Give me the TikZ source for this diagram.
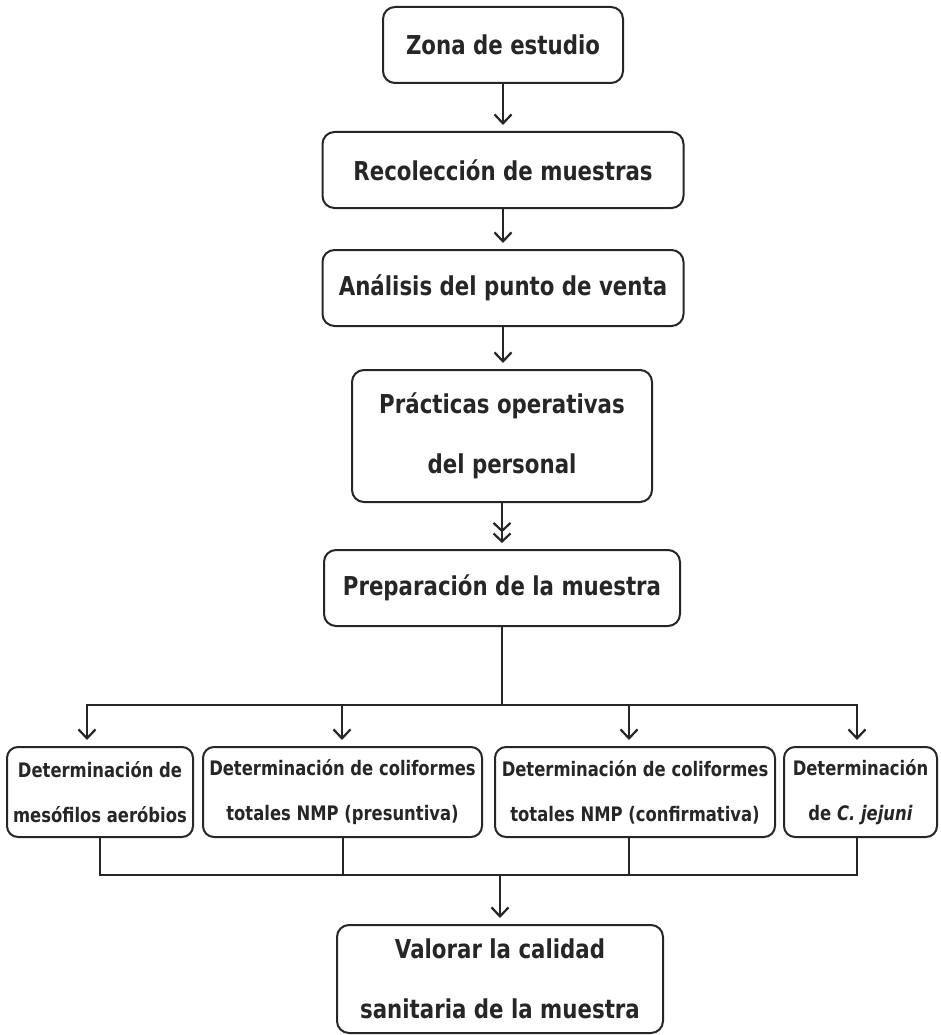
\documentclass[tikz,border=0pt]{standalone}
\usepackage{fontspec}
\setmainfont{DejaVu Sans}[FakeStretch=0.82]
\usetikzlibrary{arrows.meta}
\definecolor{ink}{HTML}{262626}
\tikzset{
  box/.style={draw=ink, line width=2pt, rounded corners=12pt, inner sep=0pt,
    align=center, text=ink, font=\bfseries\fontsize{26}{60}\selectfont},
  smallbox/.style={box, rounded corners=11pt, font=\bfseries\fontsize{20}{45}\selectfont},
  conn/.style={draw=ink, line width=2pt},
  tip/.style={},
  arr/.style={conn, -{Straight Barb[length=9pt,width=17pt,line width=2.2pt]}, shorten >=6pt},
  darr/.style={conn, -{Straight Barb[length=8pt,width=17pt,line width=2.2pt]Straight Barb[length=8pt,width=17pt,line width=2.2pt]}, shorten >=6pt},
}
\begin{document}
\begin{tikzpicture}[x=1pt,y=-1pt]
\useasboundingbox (0,0) rectangle (940,1035);
\node[box, minimum width=240pt, minimum height=76pt] (z) at (503,45) {Zona de estudio};
\node[box, minimum width=361pt, minimum height=76pt] (r) at (503,170) {Recolección de muestras};
\node[box, minimum width=361pt, minimum height=76pt] (an) at (503,288) {Análisis del punto de venta};
\node[box, minimum width=300pt, minimum height=132pt] (pr) at (502,436) {Prácticas operativas\\del personal};
\node[box, minimum width=356pt, minimum height=76pt] (prep) at (502,588) {Preparación de la muestra};

\node[smallbox, minimum width=186pt, minimum height=90pt] (a) at (100,792) {Determinación de\\mesófilos aeróbios};
\node[smallbox, minimum width=279pt, minimum height=90pt] (b) at (342.5,792) {Determinación de coliformes\\totales NMP (presuntiva)};
\node[smallbox, minimum width=280pt, minimum height=90pt] (c) at (635,792) {Determinación de coliformes\\totales NMP (confirmativa)};
\node[smallbox, minimum width=153pt, minimum height=90pt] (d) at (860.5,792) {Determinación\\de \textit{C. jejuni}};

\node[box, minimum width=326pt, minimum height=108pt] (fin) at (500,979) {Valorar la calidad\\sanitaria de la muestra};

\draw[arr] (z.south) -- (z.south |- r.north);
\draw[arr] (r.south) -- (r.south |- an.north);
\draw[arr] (an.south) -- (an.south |- pr.north);
\draw[darr] (pr.south) -- (pr.south |- prep.north);

\coordinate (bus1) at (502,705);
\coordinate (ta) at (87,705);
\coordinate (tb) at (342,705);
\coordinate (tc) at (629,705);
\coordinate (td) at (857,705);
\draw[conn] (prep.south) -- (bus1);
\draw[conn, line cap=rect] (ta) -- (td);
\draw[arr] (ta) -- (ta |- a.north);
\draw[arr] (tb) -- (tb |- b.north);
\draw[arr] (tc) -- (tc |- c.north);
\draw[arr] (td) -- (td |- d.north);

\coordinate (bus2) at (500,875);
\draw[conn] (a.south) |- (bus2);
\draw[conn] (b.south) |- (bus2);
\draw[conn] (c.south -| tc) |- (bus2);
\draw[conn] (d.south -| td) |- (bus2);
\draw[arr] (bus2) -- (fin.north);
\end{tikzpicture}
\end{document}
